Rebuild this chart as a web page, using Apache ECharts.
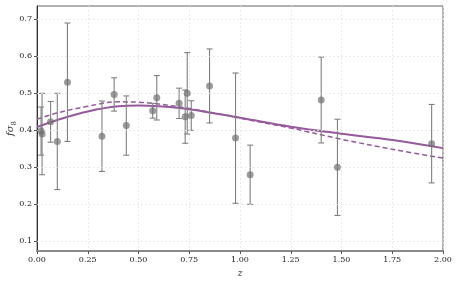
<!DOCTYPE html>
<html><head><meta charset="utf-8">
<script src="https://cdn.jsdelivr.net/npm/echarts@6/dist/echarts.min.js"></script>
<style>html,body{margin:0;padding:0;background:#fff}#c{width:458px;height:283px}</style>
</head><body><div id="c"></div>
<script>
// Observed data
var zData   = [0.02, 0.025, 0.067, 0.10, 0.15, 0.32, 0.38, 0.44, 0.57, 0.59, 0.70, 0.73, 0.74, 0.76, 0.85, 0.978, 1.05, 1.40, 1.48, 1.944];
var fs8Data = [0.398, 0.390, 0.423, 0.370, 0.530, 0.384, 0.497, 0.413, 0.453, 0.488, 0.473, 0.437, 0.500, 0.440, 0.520, 0.379, 0.280, 0.482, 0.300, 0.364];
var errData = [0.065, 0.110, 0.055, 0.130, 0.160, 0.095, 0.045, 0.080, 0.020, 0.060, 0.041, 0.072, 0.110, 0.040, 0.100, 0.176, 0.080, 0.116, 0.130, 0.106];
// Model curves
var zModel      = [0.0, 0.1, 0.25, 0.4, 0.5, 0.6, 0.75, 1.0, 1.25, 1.5, 1.75, 2.0];
var solidModel  = [0.409, 0.428, 0.451, 0.465, 0.467, 0.465, 0.457, 0.434, 0.410, 0.391, 0.374, 0.352];
var dashedModel = [0.430, 0.447, 0.465, 0.477, 0.476, 0.471, 0.459, 0.433, 0.406, 0.376, 0.349, 0.325];
// Tick labels
var yTicks = [0.1, 0.2, 0.3, 0.4, 0.5, 0.6, 0.7];

var FONT = 'DejaVu Serif';
var purple = '#955a9c';
var chart = echarts.init(document.getElementById('c'), null, {renderer: 'canvas'});

function pairs(xs, ys) { return xs.map(function (x, i) { return [x, ys[i]]; }); }
var errRows = zData.map(function (z, i) { return [z, fs8Data[i] - errData[i], fs8Data[i] + errData[i]]; });

chart.setOption({
  animation: false,
  grid: {left: 37, right: 15, top: 6, bottom: 32, containLabel: false, outerBoundsMode: 'none',
         show: true, borderColor: '#666', borderWidth: 1, backgroundColor: 'transparent'},
  xAxis: {
    type: 'value', min: 0, max: 2, interval: 0.25,
    name: 'z', nameLocation: 'middle', nameGap: 18, nameMoveOverlap: false,
    nameTextStyle: {fontFamily: FONT, fontStyle: 'italic', fontSize: 9, color: '#333'},
    axisLine: {show: true, onZero: false, lineStyle: {color: '#8a8a8a', width: 2}},
    axisTick: {show: true, length: 3, lineStyle: {color: '#555'}},
    axisLabel: {fontFamily: FONT, fontSize: 8, color: '#222', margin: 5, formatter: function (v) { return v.toFixed(2); }},
    splitLine: {show: true, lineStyle: {color: '#e6e6e6', type: [2, 2], width: 0.8}}
  },
  yAxis: {
    type: 'value', min: 0.074, max: 0.736,
    name: '{a|fσ}{b|8}', nameLocation: 'middle', nameGap: 22, nameRotate: 90, nameMoveOverlap: false,
    nameTextStyle: {rich: {
      a: {fontFamily: FONT, fontStyle: 'italic', fontSize: 10, color: '#333'},
      b: {fontFamily: FONT, fontSize: 7, color: '#333', verticalAlign: 'bottom', padding: [0, 0, -3, 0]}
    }},
    axisLine: {show: true, onZero: false, lineStyle: {color: '#333', width: 1}},
    axisTick: {show: true, length: 3, customValues: yTicks, lineStyle: {color: '#555'}},
    axisLabel: {fontFamily: FONT, fontSize: 8, color: '#222', margin: 5, customValues: yTicks, formatter: function (v) { return v.toFixed(1); }},
    splitLine: {show: false}
  },
  series: [
    {
      type: 'line', data: [], silent: true,
      markLine: {silent: true, symbol: 'none', label: {show: false},
        lineStyle: {color: '#e6e6e6', type: [2, 2], width: 0.8},
        data: yTicks.map(function (v) { return {yAxis: v}; })}
    },
    {
      type: 'line', data: pairs(zModel, dashedModel), smooth: 0.4, showSymbol: false, symbol: 'none',
      lineStyle: {color: purple, width: 1.5, type: [5, 3]}, z: 3
    },
    {
      type: 'line', data: pairs(zModel, solidModel), smooth: 0.4, showSymbol: false, symbol: 'none',
      lineStyle: {color: purple, width: 2}, z: 3
    },
    {
      type: 'custom', data: errRows, z: 4,
      renderItem: function (params, api) {
        var x = api.value(0);
        var lo = api.coord([x, api.value(1)]);
        var hi = api.coord([x, api.value(2)]);
        var c = 3;
        var st = {stroke: '#808080', lineWidth: 1.1};
        return {type: 'group', children: [
          {type: 'line', shape: {x1: lo[0], y1: lo[1], x2: hi[0], y2: hi[1]}, style: st},
          {type: 'line', shape: {x1: lo[0] - c, y1: lo[1], x2: lo[0] + c, y2: lo[1]}, style: st},
          {type: 'line', shape: {x1: hi[0] - c, y1: hi[1], x2: hi[0] + c, y2: hi[1]}, style: st}
        ]};
      }
    },
    {
      type: 'scatter', data: pairs(zData, fs8Data), symbol: 'circle', symbolSize: 7, z: 5,
      itemStyle: {color: 'rgba(110,110,110,0.85)'}
    }
  ]
});
</script></body></html>
